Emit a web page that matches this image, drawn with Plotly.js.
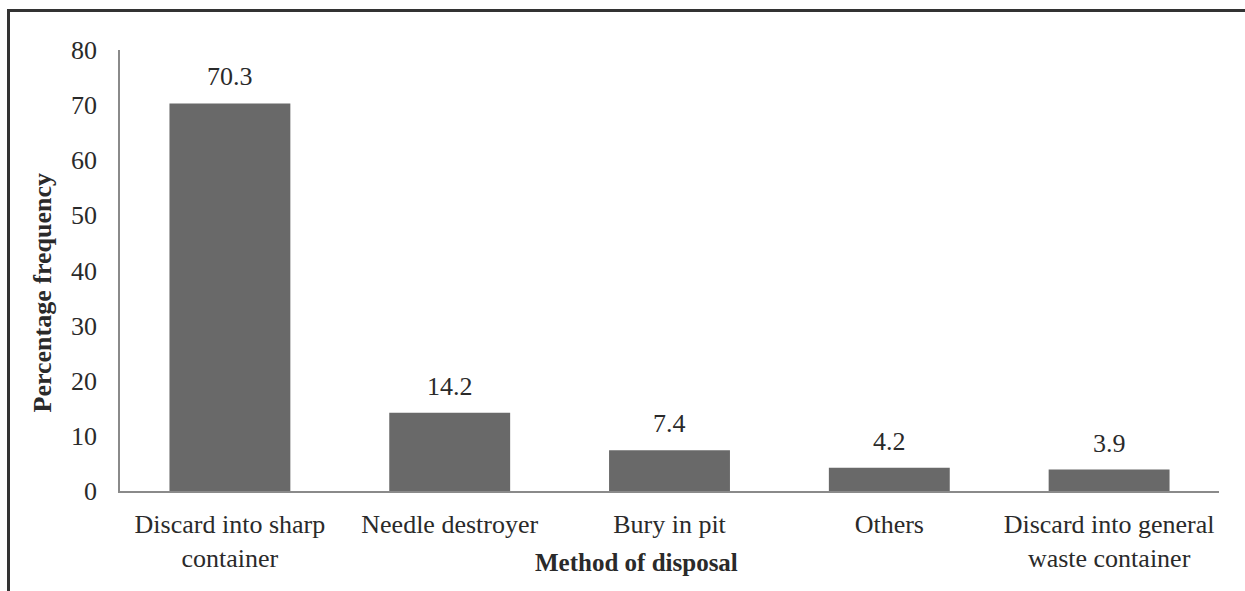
<!DOCTYPE html>
<html>
<head>
<meta charset="utf-8">
<script src="https://cdn.plot.ly/plotly-3.0.1.min.js"></script>
<style>
  html, body { margin: 0; padding: 0; background: #fff; font-family: 'Liberation Serif'; }
  #wrap { position: relative; width: 1245px; height: 591px; overflow: hidden; }
  #chart { width: 1245px; height: 591px; }
  #frame { position: absolute; left: 7px; top: 9px; width: 1300px; height: 700px;
           border-left: 3px solid #333; border-top: 3px solid #333; pointer-events: none; }
</style>
</head>
<body>
<div id="wrap">
  <div id="chart"></div>
  <div id="frame"></div>
</div>
<script>
const categories = [
  "Discard into sharp<br>container",
  "Needle destroyer",
  "Bury in pit",
  "Others",
  "Discard into general<br>waste container"
];
const values = [70.3, 14.2, 7.4, 4.2, 3.9];
const valueLabels = ["70.3", "14.2", "7.4", "4.2", "3.9"];
const yTicks = [0, 10, 20, 30, 40, 50, 60, 70, 80];
const xTitle = "Method of disposal";
const yTitle = "Percentage frequency";

const fontFam = 'Liberation Serif';
const txtColor = '#2a2a2a';

const trace = {
  type: 'bar',
  x: categories,
  y: values,
  marker: { color: '#696969' },
  width: 0.55,
  hoverinfo: 'none'
};

const annotations = categories.map((c, i) => ({
  x: c, y: values[i], xref: 'x', yref: 'y',
  text: valueLabels[i], showarrow: false,
  yanchor: 'bottom', yshift: 10,
  font: { size: 26, color: txtColor }
}));

annotations.push({
  xref: 'paper', yref: 'paper', x: 0.47, y: 0, yanchor: 'middle',
  yshift: -71, text: '<b>' + xTitle + '</b>', showarrow: false,
  font: { size: 25, color: txtColor }
});
annotations.push({
  xref: 'paper', yref: 'paper', x: 0, y: 0.5, xanchor: 'center', yanchor: 'middle',
  xshift: -78, yshift: -23, textangle: -90, text: '<b>' + yTitle + '</b>', showarrow: false,
  font: { size: 26, color: txtColor }
});

const layout = {
  width: 1245, height: 591,
  margin: { l: 120, r: 26, t: 50, b: 100 },
  paper_bgcolor: '#fff', plot_bgcolor: '#fff',
  showlegend: false,
  font: { family: fontFam, size: 26, color: txtColor },
  xaxis: {
    type: 'category',
    showline: true, linecolor: '#8a8a8a', linewidth: 1.5,
    showgrid: false, zeroline: false, ticks: '',
    ticklabelstandoff: 9,
    fixedrange: true
  },
  yaxis: {
    range: [0, 80],
    tickvals: yTicks,
    ticktext: yTicks.map(String),
    showline: true, linecolor: '#8a8a8a', linewidth: 1.5,
    showgrid: false, zeroline: false, ticks: '',
    ticklabelstandoff: 16,
    fixedrange: true
  },
  annotations: annotations
};

Plotly.newPlot('chart', [trace], layout, { displayModeBar: false });
</script>
</body>
</html>
